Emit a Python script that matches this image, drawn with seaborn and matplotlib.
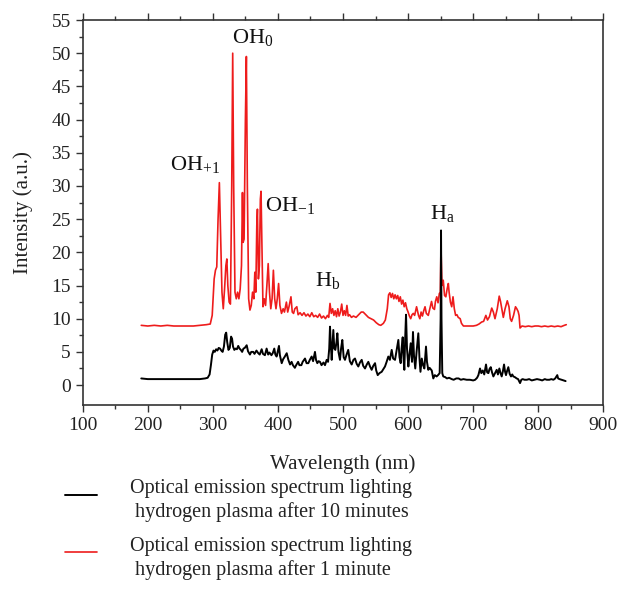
import numpy as np
import pandas as pd
import matplotlib
matplotlib.use("Agg")
import matplotlib.pyplot as plt
from matplotlib.legend_handler import HandlerLine2D
import seaborn as sns

# ---------------- data ----------------
red_nm = [190, 200, 210, 220, 230, 240, 250, 260, 270, 280, 290, 296, 299, 302, 304, 306, 308, 310,
          312, 314, 316, 318, 320, 321.5, 323, 325, 327, 329, 330.5, 332, 334, 336, 338, 340, 342,
          344, 345.5, 346.5, 348, 350, 351.5, 353, 355, 357, 359, 361, 363, 364.5, 366, 367.5, 368.5,
          370, 371.5, 373, 374, 375.5, 377, 379, 381, 383, 385, 387, 389, 391, 393, 395, 397, 399,
          401, 403, 405.5, 408, 410, 413, 415, 417, 420, 422, 424, 426, 429, 431, 434, 437, 440, 443,
          446, 449, 452, 455, 458, 461, 464, 467, 470, 473, 476, 478, 480, 482, 484, 486, 488, 490,
          492, 494, 496, 498, 500, 502, 504, 506, 508, 510, 513, 516, 520, 524, 528, 531, 535, 539,
          543, 547, 551, 555, 558, 562, 565, 568, 570, 572, 574, 576, 578, 580, 582, 584, 586, 588,
          590, 592, 594, 596, 598, 600, 602, 604, 606, 608, 610, 613, 616, 618, 620, 622, 624, 626,
          628, 631, 634, 636, 638, 640.5, 642, 644, 646, 648, 649.5, 650.5, 652, 654, 656, 658, 660,
          661.8, 663, 665, 667, 669, 671, 673, 675, 677, 680, 682, 685, 690, 695, 700, 705, 709, 713,
          716, 719.5, 722, 725, 728.5, 731, 733.5, 737, 740, 742, 744, 746.3, 749, 752.4, 755, 757,
          759, 762, 765, 767, 769, 770.5, 772, 775, 780, 785, 790, 795, 800, 805, 810, 815, 820, 825,
          830, 835, 840, 843]
red_int = [9.0, 8.9, 9.0, 8.9, 9.0, 8.9, 8.9, 8.9, 8.9, 9.0, 9.1, 9.2, 10.5, 16.0, 17.3, 17.8, 25.0, 30.5,
           22.0, 14.0, 11.5, 14.5, 18.0, 19.0, 15.0, 12.5, 12.2, 30.0, 50.0, 30.0, 14.0, 13.0, 14.0, 13.0, 14.5,
           18.0, 29.0, 21.5, 22.0, 40.0, 49.5, 30.0, 13.0, 11.3, 12.0, 14.0, 13.0, 17.0, 14.0, 24.0, 26.5,
           16.0, 18.0, 28.0, 29.2, 20.0, 11.8, 13.0, 12.0, 15.0, 18.3, 14.0, 11.5, 13.0, 17.3, 13.0, 11.5, 13.0,
           15.3, 12.0, 10.8, 11.5, 11.0, 12.5, 11.0, 11.8, 13.3, 11.0, 10.8, 11.5, 11.8, 10.6, 10.9, 10.5, 10.9, 10.4,
           10.7, 10.3, 10.9, 10.3, 10.5, 10.2, 10.7, 10.1, 10.4, 10.0, 10.5, 10.2, 12.3, 10.8, 11.5, 10.5, 11.2, 10.3,
           11.5, 10.4, 11.0, 12.2, 10.5, 11.2, 10.5, 12.0, 10.4, 10.6, 10.2, 10.4, 10.2, 10.6, 11.0, 11.0, 10.6, 10.2,
           10.0, 9.8, 9.4, 9.1, 9.0, 9.3, 9.8, 11.5, 13.6, 13.9, 13.2, 13.8, 13.0, 13.6, 13.0, 13.5, 12.6, 13.3,
           12.2, 12.8, 11.8, 12.4, 11.5, 11.0, 10.4, 10.0, 10.6, 10.8, 10.5, 11.8, 10.5, 10.0, 11.0, 10.4, 11.2, 11.8,
           10.8, 10.5, 11.8, 12.6, 11.6, 11.4, 12.6, 13.3, 12.4, 13.8, 14.0, 20.8, 15.0, 15.8, 13.5, 13.3, 14.5,
           15.3, 14.0, 12.5, 11.8, 13.3, 11.5, 10.5, 10.6, 10.2, 10.0, 9.3, 8.9, 8.9, 8.9, 8.9, 9.0, 9.2, 9.5,
           9.6, 10.5, 9.8, 10.3, 11.6, 11.0, 10.0, 11.5, 13.4, 12.6, 11.5, 10.2, 11.5, 12.7, 11.8, 10.0,
           9.6, 10.5, 11.8, 11.5, 11.1, 10.5, 8.6, 8.9, 8.8, 8.9, 8.8, 8.9, 8.9, 8.8, 8.9, 8.8, 8.9, 8.8,
           8.9, 8.8, 9.0, 9.1]

black_nm = [190, 200, 210, 220, 230, 240, 250, 260, 270, 280, 288, 292, 295, 297, 299, 301, 303, 305, 307,
            309, 311, 313, 315, 317, 319, 320.5, 322, 324, 326, 328, 329.5, 331, 333, 335, 337, 339, 341,
            343, 345, 347, 349, 352, 354, 357, 359, 362, 364, 367, 369.8, 372, 375, 377, 380, 382.6, 385,
            387, 390, 392, 394.4, 396, 398, 401.6, 403, 405.8, 408, 410, 413.5, 416, 418.6, 421, 423, 426,
            428, 431, 433, 436, 438, 441.6, 444, 446.7, 449, 451.8, 454, 456.9, 458.5, 460.5, 462.5, 464.6,
            467, 470, 472.3, 474.9, 477, 478.8, 480, 481.3, 482.6, 484, 485.1, 486.6, 488.2, 490, 491.3,
            493, 495.3, 497, 498.9, 501, 503, 505.5, 508, 510.5, 513.3, 516, 518.4, 521, 523.5, 526, 528.7,
            531, 533.8, 536.5, 538.9, 541.5, 544, 546.5, 549.2, 551, 553.3, 556, 559.4, 562, 564.5, 567,
            569.6, 572, 574.8, 577, 579.9, 582, 585, 586.8, 588.6, 590, 591.7, 593, 594.2, 595.5, 596.8,
            598.3, 600.4, 602, 604, 606, 607.5, 609, 611, 613, 615.7, 617.5, 619, 621, 623, 625, 627.5,
            629, 631, 633, 636.3, 638.7, 641, 643.8, 646, 648.5, 650, 650.6, 651.3, 652.5, 654, 657, 659.6,
            663, 667, 670, 674, 677.6, 681, 685, 690, 695, 700, 703, 706, 708, 710.5, 712.5, 714.7, 717,
            719.7, 721.5, 723.4, 725, 727, 729, 731, 733.5, 736.1, 738, 740.2, 742, 743.8, 745.5, 747.4,
            749, 750.4, 752, 754, 756, 758.1, 760, 761.7, 764, 766.8, 769, 772, 774, 776, 779, 782.3, 786,
            790, 794, 798, 802.8, 806, 810, 813, 817, 820, 823.3, 826, 829.2, 830.5, 832.6, 836, 839, 842]
black_int = [1.0, 0.9, 0.9, 0.9, 0.9, 0.9, 0.9, 0.9, 0.9, 0.9, 1.0, 1.1, 1.6, 3.0, 4.6, 5.2, 5.0, 5.4, 5.2,
             5.6, 5.5, 5.2, 5.0, 5.8, 7.6, 7.9, 6.5, 5.3, 5.6, 7.3, 7.0, 5.8, 5.3, 5.5, 5.4, 5.9, 5.5,
             5.3, 5.0, 5.5, 5.6, 6.0, 5.1, 4.6, 5.0, 5.0, 4.7, 5.2, 4.8, 4.6, 5.4, 4.7, 4.5, 5.5, 4.6,
             4.9, 4.5, 4.8, 5.5, 4.6, 4.3, 5.9, 4.5, 3.3, 3.9, 4.2, 4.8, 3.8, 3.1, 3.5, 3.0, 2.6,
             3.0, 3.5, 3.0, 3.0, 3.5, 4.0, 3.3, 3.3, 3.8, 4.3, 3.6, 5.0, 3.8, 3.3, 3.6, 3.5,
             3.0, 3.4, 3.0, 3.8, 3.5, 5.5, 8.8, 6.0, 3.8, 6.5, 8.3, 5.5, 5.3, 6.5, 7.8,
             5.0, 3.8, 5.5, 6.8, 4.2, 3.8, 4.6, 5.3, 3.6, 3.1, 3.8, 4.0, 3.2, 2.8, 3.4, 3.8,
             2.9, 2.5, 3.1, 3.5, 2.8, 2.3, 2.9, 3.3, 2.2, 1.5, 1.8, 2.0, 2.4, 2.8, 3.5,
             4.3, 3.8, 5.3, 4.0, 3.8, 5.0, 6.8, 4.2, 3.3, 5.5, 7.2, 4.0, 2.3, 7.0, 10.6,
             5.5, 2.8, 4.5, 6.3, 3.5, 8.0, 4.5, 2.5, 5.0, 7.8, 4.0, 2.0, 4.0, 3.0, 2.5, 5.8,
             3.5, 2.3, 2.6, 2.2, 1.0, 1.5, 1.3, 1.5, 1.8, 10.0, 23.3, 10.0, 1.8, 1.3, 1.2, 1.0,
             1.1, 0.9, 0.8, 1.0, 1.0, 0.8, 0.9, 0.8, 0.8, 0.7, 0.8, 1.1, 1.5, 2.5, 1.8, 2.2, 1.6,
             3.1, 1.9, 1.8, 2.4, 2.7, 1.9, 1.3, 1.8, 2.3, 1.6, 2.5, 1.8, 1.3, 2.0, 3.1,
             2.0, 1.5, 2.1, 2.7, 1.7, 1.3, 1.6, 1.3, 1.2, 1.0, 0.9, 0.3, 0.8, 0.9, 0.8, 0.8, 0.9,
             0.7, 0.8, 0.9, 0.8, 0.7, 0.9, 0.8, 0.8, 0.9, 0.8, 1.0, 1.5, 1.0, 0.9, 0.8, 0.7, 0.6]

series_labels = ["Optical emission spectrum lighting\n hydrogen plasma after 10 minutes",
                 "Optical emission spectrum lighting\n hydrogen plasma after 1 minute"]
x_ticks = [100, 200, 300, 400, 500, 600, 700, 800, 900]
y_ticks = [0, 5, 10, 15, 20, 25, 30, 35, 40, 45, 50, 55]
peak_labels = [r"OH$_{+1}$", r"OH$_{0}$", r"OH$_{-1}$", r"H$_{\mathrm{b}}$", r"H$_{\mathrm{a}}$"]
peak_x = [272, 361, 418, 477, 653]
peak_y = [33.2, 52.3, 27.0, 15.8, 25.9]

# ---------------- style ----------------
sns.set_style("ticks")
plt.rcParams["font.family"] = ["Liberation Serif", "DejaVu Serif"]
plt.rcParams["mathtext.fontset"] = "custom"
plt.rcParams["mathtext.rm"] = "Liberation Serif"
plt.rcParams["mathtext.it"] = "Liberation Serif"
plt.rcParams["mathtext.default"] = "regular"

TXT = "#222222"
LEG_FS = 14.5

df_red = pd.DataFrame({"nm": red_nm, "I": red_int})
df_black = pd.DataFrame({"nm": black_nm, "I": black_int})

fig = plt.figure(figsize=(6.18, 5.94), dpi=100)
ax = fig.add_axes([0.1338, 0.3182, 0.8425, 0.6481])

sns.lineplot(data=df_red, x="nm", y="I", color="#ee1c1c", linewidth=1.2,
             estimator=None, sort=False, ax=ax, label=series_labels[1])
sns.lineplot(data=df_black, x="nm", y="I", color="black", linewidth=1.4,
             estimator=None, sort=False, ax=ax, label=series_labels[0])

ax.set_xlim(100, 900)
ax.set_ylim(-3, 55)
ax.set_xticks(x_ticks)
ax.set_yticks(y_ticks)
ax.set_xticks(np.array(x_ticks[:-1]) + 50, minor=True)
ax.set_yticks(np.array(y_ticks[:-1]) + 2.5, minor=True)
ax.tick_params(axis="both", which="major", direction="out", length=5, width=1.0,
               labelsize=14, colors="#333333", labelcolor=TXT)
ax.tick_params(axis="both", which="minor", direction="out", length=3, width=1.0, colors="#333333")
ax.tick_params(axis="x", which="both", top=True, labeltop=False)
ax.tick_params(axis="y", which="both", right=False)
for s in ax.spines.values():
    s.set_visible(True)
    s.set_linewidth(1.2)
    s.set_color("#333333")

ax.set_xlabel("Wavelength (nm)", fontsize=15, color=TXT, labelpad=15)
ax.set_ylabel("Intensity (a.u.)", fontsize=15, color=TXT, labelpad=13)

for lab, px, py in zip(peak_labels, peak_x, peak_y):
    ax.text(px, py, lab, fontsize=16, ha="center", va="center", color="#111111")


class FirstLineHandler(HandlerLine2D):
    """Place the legend line near the height of the first text line."""
    def __init__(self, shift, **kw):
        super().__init__(**kw)
        self.shift = shift

    def create_artists(self, legend, orig_handle, xdescent, ydescent, width, height,
                       fontsize, trans):
        arts = super().create_artists(legend, orig_handle, xdescent, ydescent, width, height,
                                      fontsize, trans)
        for a in arts:
            y = np.asarray(a.get_ydata(), float)
            a.set_ydata(y + self.shift)
        return arts


handles, labels = ax.get_legend_handles_labels()
ax.get_legend().remove()
order = [labels.index(series_labels[0]), labels.index(series_labels[1])]
hl = [handles[i] for i in order]
handler = FirstLineHandler(shift=0.3 * LEG_FS)
leg = fig.legend(hl, [labels[i] for i in order],
                 loc="upper left", bbox_to_anchor=(0.105, 0.193), bbox_transform=fig.transFigure,
                 frameon=False, fontsize=LEG_FS, handlelength=1.6, handletextpad=1.65,
                 labelspacing=0.75, borderpad=0, borderaxespad=0,
                 handler_map={h: handler for h in hl})
for t in leg.get_texts():
    t.set_color(TXT)
    t.set_linespacing(1.25)

fig.savefig("out.png", dpi=100)
